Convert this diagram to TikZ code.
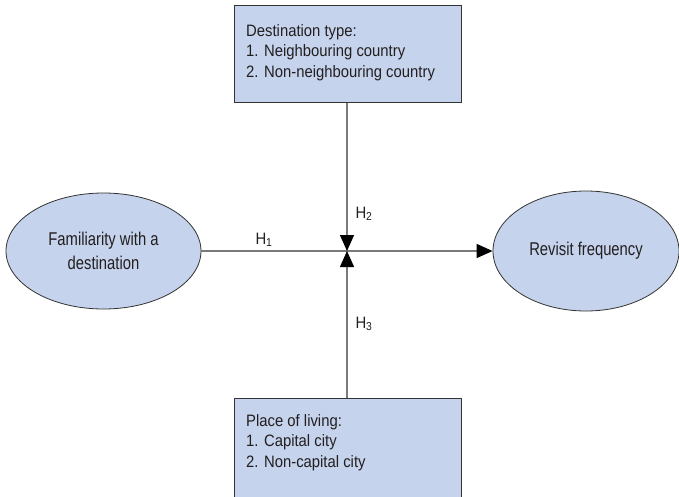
\documentclass[tikz,border=0pt]{standalone}
\usepackage{fontspec}
\setmainfont[FakeStretch=0.9]{Liberation Sans}
\newfontfamily\ellfont[FakeStretch=0.8]{Liberation Sans}
\usetikzlibrary{arrows.meta,shapes.geometric}
\definecolor{boxfill}{HTML}{C5D3EC}
\definecolor{boxline}{HTML}{333333}
\definecolor{txt}{HTML}{231F20}
\definecolor{conn}{HTML}{7A7A7A}
\tikzset{
  x=1pt,y=-1pt,
  every node/.style={text=txt,font=\fontsize{16.5}{20.5}\selectfont},
  varbox/.style={draw=boxline,fill=boxfill,line width=1pt,rectangle,inner sep=0pt,minimum width=227pt},
  boxtext/.style={anchor=north west,align=left,inner sep=0pt},
  varell/.style={draw=boxline,fill=boxfill,line width=0.8pt,ellipse,inner sep=0pt,align=center,
    font=\ellfont\fontsize{18.5}{24}\selectfont},
  conn/.style={draw=conn,line width=1.3pt},
  arr/.style={conn,-{Triangle[length=16pt,width=14pt,fill=black,color=black]}},
  hlab/.style={inner sep=0pt}
}
\begin{document}
\begin{tikzpicture}
\useasboundingbox (0,0) rectangle (679,496);
\clip (0,0) rectangle (679,496);
% boxes
\node[varbox,minimum height=97pt] (dest) at (347.5,53.5) {};
\node[boxtext] (destt) at (246,24) {Destination type:\\1. Neighbouring country\\2. Non-neighbouring country};
\node[varbox,minimum height=110pt] (place) at (347.5,453) {};
\node[boxtext] (placet) at (246,414) {Place of living:\\1. Capital city\\2. Non-capital city};
% ellipses
\node[varell,minimum width=195pt,minimum height=116pt] (fam) at (103.5,251) {Familiarity with a\\destination};
\node[varell,minimum width=186pt,minimum height=120pt] (rev) at (586,251) {Revisit frequency};
% junction
\coordinate (j) at (347,251);
\draw[conn] (fam.east) -- (j);
\draw[arr] (j) -- (rev.west);
\draw[arr] (dest.south -| j) -- (j);
\draw[arr] (place.north -| j) -- (j);
% labels
\node[hlab] (h1) at (264,240) {H\textsubscript{1}};
\node[hlab] (h2) at (364,214) {H\textsubscript{2}};
\node[hlab] (h3) at (364,324) {H\textsubscript{3}};
\end{tikzpicture}
\end{document}
